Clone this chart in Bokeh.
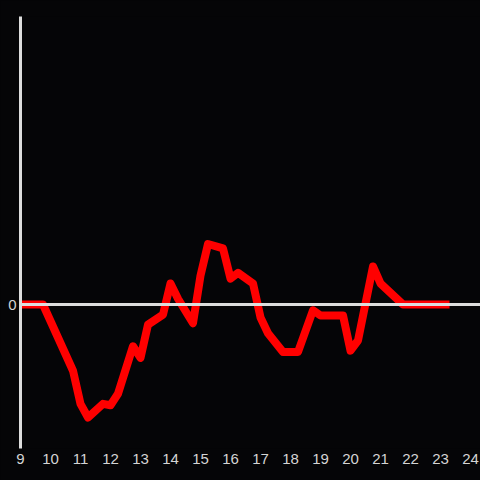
from bokeh.plotting import figure
from bokeh.models import Span, FixedTicker, Range1d
from bokeh.embed import file_html
from bokeh.resources import INLINE

x_vals = [9, 9.75, 10.75, 11, 11.25, 11.75, 12, 12.25, 12.75, 13, 13.25, 13.75, 14,
          14.25, 14.75, 15, 15.25, 15.75, 16, 16.25, 16.75, 17, 17.25, 17.75, 18.25,
          18.75, 19, 19.75, 20, 20.25, 20.75, 21, 21.75, 23.3]
y_vals = [0, 0, -0.46, -0.69, -0.785, -0.69, -0.70, -0.62, -0.29, -0.37, -0.14, -0.07, 0.146,
          0.04, -0.13, 0.20, 0.42, 0.39, 0.18, 0.22, 0.146, -0.09, -0.20, -0.33, -0.33,
          -0.04, -0.076, -0.076, -0.32, -0.25, 0.264, 0.146, 0, 0]
x_ticks = list(range(9, 25))
y_ticks = [0]

bg = "#050507"
axis_col = "#dddddd"
label_col = "#d4d4d4"

p = figure(width=480, height=480, output_backend="svg", toolbar_location=None,
           x_range=Range1d(9, 9 + 460 / 30), y_range=Range1d(-1, 2),
           min_border_left=20, min_border_top=16, min_border_right=0, min_border_bottom=32)
p.background_fill_color = bg
p.border_fill_color = bg
p.outline_line_color = None
p.xgrid.visible = False
p.ygrid.visible = False

p.add_layout(Span(location=0, dimension="width", line_color=axis_col, line_width=3))

p.line(x_vals, y_vals, line_color="#ff0000", line_width=8, line_join="round")

p.xaxis.ticker = FixedTicker(ticks=x_ticks)
p.xaxis.axis_line_color = None
p.xaxis.major_tick_line_color = None
p.xaxis.minor_tick_line_color = None
p.xaxis.major_tick_out = 0
p.xaxis.major_label_standoff = 5
p.xaxis.major_label_text_color = label_col
p.xaxis.major_label_text_font = "Liberation Sans"
p.xaxis.major_label_text_font_size = "15px"

p.yaxis.ticker = FixedTicker(ticks=y_ticks)
p.yaxis.axis_line_color = axis_col
p.yaxis.axis_line_width = 3
p.yaxis.major_tick_line_color = None
p.yaxis.minor_tick_line_color = None
p.yaxis.major_tick_out = 0
p.yaxis.major_label_standoff = 4
p.yaxis.major_label_text_color = label_col
p.yaxis.major_label_text_font = "Liberation Sans"
p.yaxis.major_label_text_font_size = "15px"

html = file_html(p, INLINE)
html = html.replace("<head>", "<head><style>html,body{margin:0;padding:0;background:#050507;overflow:hidden;}</style>", 1)
open("out.html", "w").write(html)
